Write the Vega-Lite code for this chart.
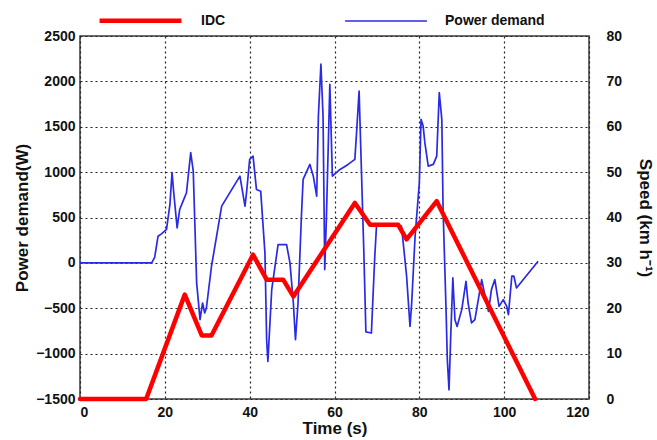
{
  "$schema": "https://vega.github.io/schema/vega-lite/v6.json",
  "width": 509,
  "height": 363,
  "autosize": {"type": "none"},
  "padding": {"left": 80, "top": 36, "right": 68, "bottom": 41},
  "background": "white",
  "config": {
    "view": {"stroke": "#3a3a3a", "strokeWidth": 1.5},
    "font": "Liberation Sans",
    "axis": {
      "labelFont": "Liberation Sans",
      "labelFontWeight": "bold",
      "labelFontSize": 14,
      "labelColor": "#111111",
      "titleFont": "Liberation Sans",
      "titleFontWeight": "bold",
      "titleFontSize": 17,
      "titleColor": "#111111",
      "domain": false,
      "ticks": false,
      "gridColor": "#222222",
      "gridDash": [2, 3],
      "gridWidth": 1.2,
      "gridOpacity": 1
    },
    "legend": {
      "orient": "none",
      "legendX": 17,
      "legendY": -59,
      "direction": "horizontal",
      "title": null,
      "padding": 0,
      "symbolType": "stroke",
      "symbolSize": 6700,
      "labelFont": "Liberation Sans",
      "labelFontWeight": "bold",
      "labelFontSize": 14,
      "labelColor": "#111111",
      "labelOffset": 17,
      "columnPadding": 115
    }
  },
  "datasets": {
    "power": [
      {"t": 0, "w": 0, "series": "Power demand"},
      {"t": 16.9, "w": 0, "series": "Power demand"},
      {"t": 17.6, "w": 60, "series": "Power demand"},
      {"t": 18.4, "w": 294, "series": "Power demand"},
      {"t": 19.2, "w": 320, "series": "Power demand"},
      {"t": 20.4, "w": 368, "series": "Power demand"},
      {"t": 21.2, "w": 644, "series": "Power demand"},
      {"t": 21.7, "w": 994, "series": "Power demand"},
      {"t": 22.1, "w": 773, "series": "Power demand"},
      {"t": 22.9, "w": 386, "series": "Power demand"},
      {"t": 23.5, "w": 588, "series": "Power demand"},
      {"t": 24.3, "w": 680, "series": "Power demand"},
      {"t": 25.1, "w": 773, "series": "Power demand"},
      {"t": 26.1, "w": 1214, "series": "Power demand"},
      {"t": 26.7, "w": 1011, "series": "Power demand"},
      {"t": 27.5, "w": -221, "series": "Power demand"},
      {"t": 28.3, "w": -626, "series": "Power demand"},
      {"t": 28.9, "w": -442, "series": "Power demand"},
      {"t": 29.4, "w": -552, "series": "Power demand"},
      {"t": 29.8, "w": -497, "series": "Power demand"},
      {"t": 31.0, "w": -37, "series": "Power demand"},
      {"t": 33.4, "w": 625, "series": "Power demand"},
      {"t": 37.7, "w": 956, "series": "Power demand"},
      {"t": 38.9, "w": 625, "series": "Power demand"},
      {"t": 39.3, "w": 790, "series": "Power demand"},
      {"t": 40.0, "w": 1140, "series": "Power demand"},
      {"t": 40.8, "w": 1177, "series": "Power demand"},
      {"t": 41.6, "w": 809, "series": "Power demand"},
      {"t": 42.6, "w": 790, "series": "Power demand"},
      {"t": 43.6, "w": 110, "series": "Power demand"},
      {"t": 44.0, "w": -847, "series": "Power demand"},
      {"t": 44.3, "w": -1086, "series": "Power demand"},
      {"t": 45.2, "w": -295, "series": "Power demand"},
      {"t": 46.7, "w": 202, "series": "Power demand"},
      {"t": 48.7, "w": 202, "series": "Power demand"},
      {"t": 49.5, "w": 0, "series": "Power demand"},
      {"t": 50.3, "w": -442, "series": "Power demand"},
      {"t": 50.8, "w": -847, "series": "Power demand"},
      {"t": 51.4, "w": -442, "series": "Power demand"},
      {"t": 52.2, "w": 514, "series": "Power demand"},
      {"t": 52.6, "w": 920, "series": "Power demand"},
      {"t": 54.2, "w": 1085, "series": "Power demand"},
      {"t": 55.0, "w": 956, "series": "Power demand"},
      {"t": 55.8, "w": 735, "series": "Power demand"},
      {"t": 56.2, "w": 1618, "series": "Power demand"},
      {"t": 56.8, "w": 2189, "series": "Power demand"},
      {"t": 57.3, "w": 1618, "series": "Power demand"},
      {"t": 57.7, "w": -74, "series": "Power demand"},
      {"t": 58.1, "w": 514, "series": "Power demand"},
      {"t": 58.9, "w": 1968, "series": "Power demand"},
      {"t": 59.5, "w": 956, "series": "Power demand"},
      {"t": 61.3, "w": 1030, "series": "Power demand"},
      {"t": 63.2, "w": 1085, "series": "Power demand"},
      {"t": 64.8, "w": 1140, "series": "Power demand"},
      {"t": 65.2, "w": 1435, "series": "Power demand"},
      {"t": 65.8, "w": 1894, "series": "Power demand"},
      {"t": 66.2, "w": 1251, "series": "Power demand"},
      {"t": 66.9, "w": 147, "series": "Power demand"},
      {"t": 67.4, "w": -760, "series": "Power demand"},
      {"t": 68.7, "w": -773, "series": "Power demand"},
      {"t": 69.5, "w": 74, "series": "Power demand"},
      {"t": 69.9, "w": 404, "series": "Power demand"},
      {"t": 75.8, "w": 404, "series": "Power demand"},
      {"t": 76.2, "w": 221, "series": "Power demand"},
      {"t": 77.0, "w": -147, "series": "Power demand"},
      {"t": 77.8, "w": -700, "series": "Power demand"},
      {"t": 78.2, "w": -442, "series": "Power demand"},
      {"t": 79.0, "w": 294, "series": "Power demand"},
      {"t": 80.0, "w": 883, "series": "Power demand"},
      {"t": 80.4, "w": 1582, "series": "Power demand"},
      {"t": 80.9, "w": 1508, "series": "Power demand"},
      {"t": 81.3, "w": 1325, "series": "Power demand"},
      {"t": 82.1, "w": 1066, "series": "Power demand"},
      {"t": 83.3, "w": 1085, "series": "Power demand"},
      {"t": 84.1, "w": 1177, "series": "Power demand"},
      {"t": 84.7, "w": 1877, "series": "Power demand"},
      {"t": 85.3, "w": 1582, "series": "Power demand"},
      {"t": 85.6, "w": 588, "series": "Power demand"},
      {"t": 86.3, "w": -515, "series": "Power demand"},
      {"t": 86.6, "w": -1068, "series": "Power demand"},
      {"t": 87.0, "w": -1399, "series": "Power demand"},
      {"t": 87.4, "w": -810, "series": "Power demand"},
      {"t": 87.9, "w": -166, "series": "Power demand"},
      {"t": 88.4, "w": -626, "series": "Power demand"},
      {"t": 88.9, "w": -700, "series": "Power demand"},
      {"t": 90.0, "w": -515, "series": "Power demand"},
      {"t": 91.0, "w": -203, "series": "Power demand"},
      {"t": 91.5, "w": -442, "series": "Power demand"},
      {"t": 92.3, "w": -662, "series": "Power demand"},
      {"t": 93.1, "w": -626, "series": "Power demand"},
      {"t": 93.9, "w": -405, "series": "Power demand"},
      {"t": 94.7, "w": -184, "series": "Power demand"},
      {"t": 95.5, "w": -368, "series": "Power demand"},
      {"t": 96.3, "w": -534, "series": "Power demand"},
      {"t": 97.0, "w": -295, "series": "Power demand"},
      {"t": 97.8, "w": -184, "series": "Power demand"},
      {"t": 98.8, "w": -479, "series": "Power demand"},
      {"t": 99.8, "w": -405, "series": "Power demand"},
      {"t": 100.6, "w": -479, "series": "Power demand"},
      {"t": 101.0, "w": -571, "series": "Power demand"},
      {"t": 101.8, "w": -147, "series": "Power demand"},
      {"t": 102.3, "w": -147, "series": "Power demand"},
      {"t": 102.9, "w": -276, "series": "Power demand"},
      {"t": 108.0, "w": 18, "series": "Power demand"}
    ],
    "idc": [
      {"t": 0, "speed": 0, "series": "IDC"},
      {"t": 15.6, "speed": 0, "series": "IDC"},
      {"t": 24.7, "speed": 23.0, "series": "IDC"},
      {"t": 28.7, "speed": 14.0, "series": "IDC"},
      {"t": 31.0, "speed": 14.0, "series": "IDC"},
      {"t": 40.8, "speed": 31.8, "series": "IDC"},
      {"t": 44.0, "speed": 26.3, "series": "IDC"},
      {"t": 47.9, "speed": 26.3, "series": "IDC"},
      {"t": 50.3, "speed": 22.6, "series": "IDC"},
      {"t": 64.8, "speed": 43.2, "series": "IDC"},
      {"t": 68.4, "speed": 38.4, "series": "IDC"},
      {"t": 75.0, "speed": 38.4, "series": "IDC"},
      {"t": 77.0, "speed": 35.2, "series": "IDC"},
      {"t": 84.1, "speed": 43.6, "series": "IDC"},
      {"t": 107.3, "speed": 0, "series": "IDC"}
    ]
  },
  "layer": [
    {
      "data": {"name": "power"},
      "mark": {"type": "line", "strokeJoin": "round"},
      "encoding": {
        "x": {
          "field": "t", "type": "quantitative",
          "scale": {"domain": [0, 120], "nice": false},
          "axis": {"values": [0, 20, 40, 60, 80, 100, 120], "format": "d", "title": "Time (s)", "labelPadding": 6, "titlePadding": 1}
        },
        "y": {
          "field": "w", "type": "quantitative",
          "scale": {"domain": [-1500, 2500], "nice": false, "zero": false},
          "axis": {"values": [-1500, -1000, -500, 0, 500, 1000, 1500, 2000, 2500], "format": "d", "title": "Power demand(W)", "labelPadding": 5, "titlePadding": 4}
        },
        "color": {
          "field": "series", "type": "nominal",
          "scale": {"domain": ["IDC", "Power demand"], "range": ["#ff0000", "#2a2ae6"]}
        },
        "strokeWidth": {
          "field": "series", "type": "nominal",
          "scale": {"domain": ["IDC", "Power demand"], "range": [4.5, 1.7]}
        }
      }
    },
    {
      "data": {"name": "idc"},
      "mark": {"type": "line", "strokeJoin": "round", "strokeCap": "round"},
      "encoding": {
        "x": {"field": "t", "type": "quantitative"},
        "y": {
          "field": "speed", "type": "quantitative",
          "scale": {"domain": [0, 80], "nice": false},
          "axis": {"orient": "right", "grid": false, "values": [0, 10, 20, 30, 40, 50, 60, 70, 80], "format": "d", "title": "Speed (km h⁻¹)", "labelPadding": 17, "titlePadding": 14}
        },
        "color": {
          "field": "series", "type": "nominal",
          "scale": {"domain": ["IDC", "Power demand"], "range": ["#ff0000", "#2a2ae6"]}
        },
        "strokeWidth": {
          "field": "series", "type": "nominal",
          "scale": {"domain": ["IDC", "Power demand"], "range": [4.5, 1.7]}
        }
      }
    }
  ],
  "resolve": {"scale": {"y": "independent"}}
}
